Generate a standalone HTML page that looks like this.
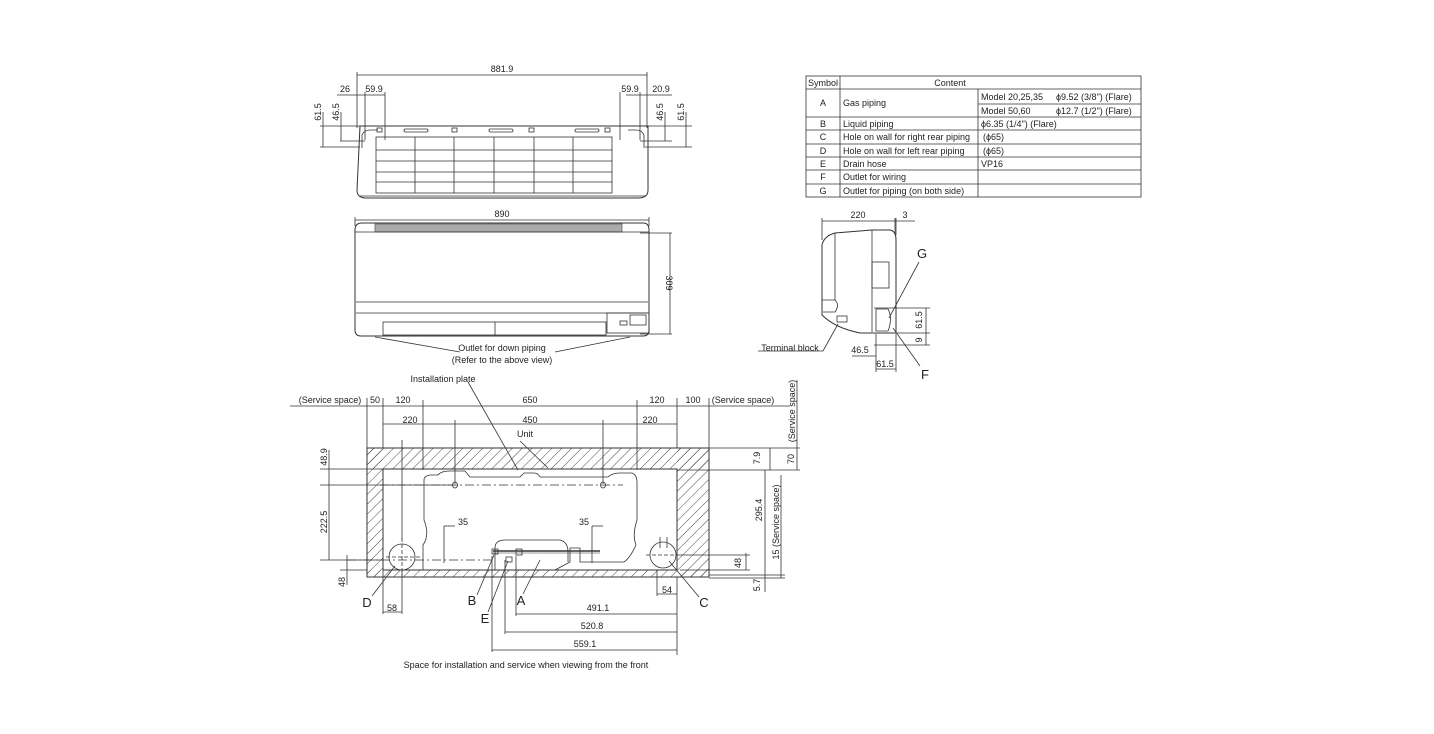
<!DOCTYPE html>
<html><head><meta charset="utf-8"><style>
html,body{margin:0;padding:0;background:#fff;}
svg{display:block;}
text{font-family:"Liberation Sans",sans-serif;font-size:9px;fill:#222;}
.big{font-size:13px;}
</style></head><body>
<svg width="1434" height="734" viewBox="0 0 1434 734" xmlns="http://www.w3.org/2000/svg">
<defs>
<pattern id="h" width="7" height="7" patternUnits="userSpaceOnUse" patternTransform="rotate(45)">
<line x1="0" y1="0" x2="0" y2="7" stroke="#333" stroke-width="0.9"/>
</pattern>
</defs>
<g stroke="#333" stroke-width="0.8" fill="none">
<!-- ===== TOP VIEW ===== -->
<line x1="357" y1="75" x2="647" y2="75"/>
<line x1="357" y1="72" x2="357" y2="128"/><line x1="647" y1="72" x2="647" y2="128"/>
<line x1="337" y1="95" x2="385" y2="95"/><line x1="626" y1="95" x2="672" y2="95"/>
<line x1="365" y1="92" x2="365" y2="140"/><line x1="385" y1="92" x2="385" y2="140"/>
<line x1="620" y1="92" x2="620" y2="140"/><line x1="640" y1="92" x2="640" y2="140"/>
<line x1="320" y1="126" x2="692" y2="126"/>
<line x1="340" y1="141" x2="365" y2="141"/><line x1="640" y1="141" x2="672" y2="141"/>
<line x1="320" y1="147" x2="360" y2="147"/><line x1="645" y1="147" x2="692" y2="147"/>
<line x1="323" y1="112" x2="323" y2="147"/><line x1="341" y1="112" x2="341" y2="141"/>
<line x1="665" y1="112" x2="665" y2="141"/><line x1="686" y1="112" x2="686" y2="147"/>
<path d="M360 126 H648 V190 Q648 198 638 198 H366 Q357 198 357 190 Z" stroke-width="1"/>
<path d="M362 148 L362 135 Q364 130 370 130 L378 130" />
<path d="M644 148 L644 135 Q642 130 636 130 L628 130" />
<rect x="376" y="137" width="236" height="56"/>
<line x1="415" y1="137" x2="415" y2="193"/><line x1="454" y1="137" x2="454" y2="193"/>
<line x1="494" y1="137" x2="494" y2="193"/><line x1="534" y1="137" x2="534" y2="193"/>
<line x1="573" y1="137" x2="573" y2="193"/>
<line x1="376" y1="150" x2="612" y2="150"/><line x1="376" y1="161" x2="612" y2="161"/>
<line x1="376" y1="172" x2="612" y2="172"/><line x1="376" y1="182" x2="612" y2="182"/>
<rect x="404" y="129" width="24" height="3" rx="1.5"/><rect x="489" y="129" width="24" height="3" rx="1.5"/><rect x="575" y="129" width="24" height="3" rx="1.5"/>
<rect x="377" y="128" width="5" height="4"/><rect x="452" y="128" width="5" height="4"/><rect x="529" y="128" width="5" height="4"/><rect x="605" y="128" width="5" height="4"/>
<line x1="360" y1="196" x2="646" y2="196"/>

<!-- ===== FRONT VIEW ===== -->
<line x1="355" y1="220" x2="649" y2="220"/>
<line x1="355" y1="217" x2="355" y2="226"/><line x1="649" y1="217" x2="649" y2="226"/>
<path d="M362 223 H643 Q649 223 649 230 V330 Q649 336 643 336 H361 Q355 336 355 330 V230 Q355 223 362 223 Z" stroke-width="1"/>
<rect x="375" y="224" width="247" height="8" fill="#aaa" stroke="#666"/>
<line x1="355" y1="232" x2="649" y2="232"/>
<line x1="356" y1="302" x2="648" y2="302"/>
<line x1="356" y1="313" x2="648" y2="313"/>
<rect x="383" y="322" width="223" height="13"/><line x1="495" y1="322" x2="495" y2="335"/>
<rect x="607" y="313" width="42" height="20"/><rect x="630" y="315" width="16" height="10"/><rect x="620" y="321" width="7" height="4"/>
<line x1="640" y1="233" x2="672" y2="233"/><line x1="640" y1="334" x2="672" y2="334"/>
<line x1="670" y1="233" x2="670" y2="334"/>
<line x1="375" y1="337" x2="460" y2="352"/><line x1="630" y1="337" x2="555" y2="352"/>

<!-- ===== TABLE ===== -->
<rect x="806" y="76" width="335" height="121"/>
<line x1="840" y1="76" x2="840" y2="197"/>
<line x1="978" y1="89" x2="978" y2="197"/>
<line x1="806" y1="89" x2="1141" y2="89"/>
<line x1="978" y1="104" x2="1141" y2="104"/>
<line x1="806" y1="117" x2="1141" y2="117"/><line x1="806" y1="130" x2="1141" y2="130"/>
<line x1="806" y1="144" x2="1141" y2="144"/><line x1="806" y1="157" x2="1141" y2="157"/>
<line x1="806" y1="170" x2="1141" y2="170"/><line x1="806" y1="184" x2="1141" y2="184"/>

<!-- ===== SIDE VIEW ===== -->
<line x1="822" y1="221" x2="896" y2="221"/><line x1="896" y1="221" x2="915" y2="221"/>
<line x1="822" y1="218" x2="822" y2="240"/><line x1="896" y1="218" x2="896" y2="235"/><line x1="895" y1="218" x2="895" y2="235"/>
<path d="M822 245 Q824 236 835 233 L872 230 H890 Q896 231 896 240 V333 L872 333 L860 333 Q835 328 822 315 Z" stroke-width="1"/>
<line x1="835" y1="233" x2="835" y2="300"/>
<line x1="872" y1="230" x2="872" y2="332"/>
<rect x="872" y="262" width="17" height="26"/>
<path d="M822 300 H835 Q840 305 835 312 H823"/>
<rect x="837" y="316" width="10" height="6"/>
<path d="M876 309 H888 Q893 318 888 331 H876 Z"/>
<line x1="874" y1="308" x2="930" y2="308"/>
<line x1="874" y1="333" x2="930" y2="333"/><line x1="874" y1="345" x2="930" y2="345"/>
<line x1="926" y1="308" x2="926" y2="345"/>
<line x1="876" y1="334" x2="876" y2="372"/><line x1="896" y1="334" x2="896" y2="372"/>
<line x1="852" y1="356" x2="876" y2="356"/><line x1="876" y1="369" x2="896" y2="369"/>
<line x1="919" y1="262" x2="889" y2="318"/>
<line x1="893" y1="328" x2="920" y2="366"/>
<line x1="758" y1="351" x2="823" y2="351"/><line x1="823" y1="351" x2="838" y2="324"/>

<!-- ===== BOTTOM VIEW ===== -->
<rect x="367" y="448" width="342" height="21" fill="url(#h)" stroke="none"/>
<rect x="367" y="448" width="16" height="129" fill="url(#h)" stroke="none"/>
<rect x="677" y="448" width="32" height="129" fill="url(#h)" stroke="none"/>
<rect x="367" y="570" width="342" height="7" fill="url(#h)" stroke="none"/>
<rect x="367" y="448" width="342" height="129" stroke-width="1"/>
<rect x="383" y="469" width="294" height="101" stroke-width="1"/>
<!-- installation plate -->
<path d="M423 570 V545 Q430 535 424 520 V480 Q424 476 430 475 H438 Q441 471 450 471 H465 L470 477 H520 L524 473 H534 Q538 473 540 477 H608 Q612 473 620 473 H632 Q637 475 637 482 V520 Q632 535 636 545 Q630 558 624 562 L580 562 V548 H570 V562 L555 570" />
<path d="M495 570 V548 Q495 540 505 540 H560 Q568 542 568 552 V562" />
<line x1="493" y1="551" x2="600" y2="551" stroke-width="1.5"/>
<line x1="493" y1="553" x2="600" y2="553" stroke-width="0.6"/>
<rect x="492" y="549" width="6" height="5"/><rect x="516" y="549" width="6" height="6"/><rect x="506" y="557" width="6" height="5"/>
<line x1="380" y1="485" x2="623" y2="485" stroke-dasharray="9 3 2 3"/>
<ellipse cx="455" cy="485" rx="2.5" ry="3"/><ellipse cx="603" cy="485" rx="2.5" ry="3"/>
<circle cx="402" cy="557" r="13"/><line x1="386" y1="557" x2="420" y2="557" stroke-dasharray="4 2"/><line x1="402" y1="538" x2="402" y2="576" stroke-dasharray="4 2"/>
<circle cx="663" cy="555" r="13"/><line x1="646" y1="555" x2="680" y2="555" stroke-dasharray="4 2"/>
<line x1="660" y1="537" x2="660" y2="548"/><line x1="667" y1="537" x2="667" y2="548"/>
<line x1="347" y1="560" x2="493" y2="560" stroke-dasharray="9 3 2 3"/>
<!-- top dims -->
<line x1="290" y1="406" x2="790" y2="406"/>
<line x1="367" y1="398" x2="367" y2="448"/><line x1="383" y1="398" x2="383" y2="448"/>
<line x1="423" y1="400" x2="423" y2="470"/><line x1="637" y1="400" x2="637" y2="470"/>
<line x1="677" y1="398" x2="677" y2="448"/><line x1="709" y1="398" x2="709" y2="448"/>
<line x1="383" y1="424" x2="677" y2="424"/>
<line x1="455" y1="420" x2="455" y2="484"/><line x1="603" y1="420" x2="603" y2="484"/>
<line x1="402" y1="440" x2="402" y2="540"/>
<line x1="468" y1="382" x2="518" y2="470"/>
<line x1="520" y1="441" x2="548" y2="468"/>
<!-- left dims -->
<line x1="320" y1="469" x2="383" y2="469"/><line x1="320" y1="485" x2="455" y2="485"/><line x1="320" y1="560" x2="383" y2="560"/>
<line x1="329" y1="450" x2="329" y2="560"/>
<line x1="347" y1="555" x2="347" y2="585"/><line x1="340" y1="570" x2="367" y2="570"/>
<line x1="444" y1="526" x2="455" y2="526"/><line x1="444" y1="526" x2="444" y2="563"/>
<line x1="592" y1="526" x2="603" y2="526"/><line x1="592" y1="526" x2="592" y2="563"/>
<!-- right dims -->
<line x1="709" y1="448" x2="800" y2="448"/><line x1="677" y1="470" x2="800" y2="470"/>
<line x1="770" y1="448" x2="770" y2="470"/><line x1="797" y1="380" x2="797" y2="470"/>
<line x1="765" y1="470" x2="765" y2="578"/><line x1="781" y1="475" x2="781" y2="578"/>
<line x1="709" y1="575" x2="785" y2="575"/><line x1="709" y1="578" x2="785" y2="578"/>
<line x1="680" y1="570" x2="750" y2="570"/><line x1="680" y1="555" x2="750" y2="555"/>
<line x1="746" y1="553" x2="746" y2="570"/>
<line x1="765" y1="578" x2="765" y2="592"/>
<!-- lower dims -->
<line x1="383" y1="570" x2="383" y2="614"/><line x1="402" y1="570" x2="402" y2="614"/>
<line x1="383" y1="612" x2="402" y2="612"/>
<line x1="657" y1="570" x2="657" y2="596"/><line x1="657" y1="594" x2="677" y2="594"/>
<line x1="677" y1="577" x2="677" y2="655"/>
<line x1="516" y1="556" x2="516" y2="616"/><line x1="516" y1="614" x2="677" y2="614"/>
<line x1="505" y1="560" x2="505" y2="634"/><line x1="505" y1="632" x2="677" y2="632"/>
<line x1="492" y1="556" x2="492" y2="652"/><line x1="492" y1="650" x2="677" y2="650"/>
<!-- leaders -->
<line x1="372" y1="596" x2="395" y2="566"/>
<line x1="477" y1="595" x2="494" y2="555"/>
<line x1="488" y1="612" x2="508" y2="561"/>
<line x1="523" y1="594" x2="540" y2="560"/>
<line x1="699" y1="597" x2="669" y2="561"/>
</g>

<g>
<!-- top view text -->
<text x="502" y="72" text-anchor="middle">881.9</text>
<text x="345" y="92" text-anchor="middle">26</text>
<text x="374" y="92" text-anchor="middle">59.9</text>
<text x="630" y="92" text-anchor="middle">59.9</text>
<text x="661" y="92" text-anchor="middle">20.9</text>
<text transform="translate(321,112) rotate(-90)" text-anchor="middle">61.5</text>
<text transform="translate(339,112) rotate(-90)" text-anchor="middle">46.5</text>
<text transform="translate(663,112) rotate(-90)" text-anchor="middle">46.5</text>
<text transform="translate(684,112) rotate(-90)" text-anchor="middle">61.5</text>
<text x="502" y="217" text-anchor="middle">890</text>
<text transform="translate(666,283) rotate(90)" text-anchor="middle">309</text>
<text x="502" y="351" text-anchor="middle">Outlet for down piping</text>
<text x="502" y="363" text-anchor="middle">(Refer to the above view)</text>
<!-- table -->
<text x="823" y="86" text-anchor="middle">Symbol</text>
<text x="950" y="86" text-anchor="middle">Content</text>
<text x="823" y="106" text-anchor="middle">A</text><text x="843" y="106">Gas piping</text>
<text x="981" y="100">Model 20,25,35</text><text x="1056" y="100">ϕ9.52 (3/8") (Flare)</text>
<text x="981" y="114">Model 50,60</text><text x="1056" y="114">ϕ12.7 (1/2") (Flare)</text>
<text x="823" y="127" text-anchor="middle">B</text><text x="843" y="127">Liquid piping</text><text x="981" y="127">ϕ6.35 (1/4") (Flare)</text>
<text x="823" y="140" text-anchor="middle">C</text><text x="843" y="140">Hole on wall for right rear piping</text><text x="983" y="140">(ϕ65)</text>
<text x="823" y="154" text-anchor="middle">D</text><text x="843" y="154">Hole on wall for left rear piping</text><text x="983" y="154">(ϕ65)</text>
<text x="823" y="167" text-anchor="middle">E</text><text x="843" y="167">Drain hose</text><text x="981" y="167">VP16</text>
<text x="823" y="180" text-anchor="middle">F</text><text x="843" y="180">Outlet for wiring</text>
<text x="823" y="194" text-anchor="middle">G</text><text x="843" y="194">Outlet for piping (on both side)</text>
<!-- side view -->
<text x="858" y="218" text-anchor="middle">220</text>
<text x="905" y="218" text-anchor="middle">3</text>
<text x="922" y="258" class="big" text-anchor="middle">G</text>
<text x="925" y="379" class="big" text-anchor="middle">F</text>
<text x="790" y="351" text-anchor="middle">Terminal block</text>
<text transform="translate(922,320) rotate(-90)" text-anchor="middle">61.5</text>
<text transform="translate(922,340) rotate(-90)" text-anchor="middle">9</text>
<text x="860" y="353" text-anchor="middle">46.5</text>
<text x="885" y="367" text-anchor="middle">61.5</text>
<!-- bottom view -->
<text x="443" y="382" text-anchor="middle">Installation plate</text>
<text x="525" y="437" text-anchor="middle">Unit</text>
<text x="330" y="403" text-anchor="middle">(Service space)</text>
<text x="375" y="403" text-anchor="middle">50</text>
<text x="403" y="403" text-anchor="middle">120</text>
<text x="530" y="403" text-anchor="middle">650</text>
<text x="657" y="403" text-anchor="middle">120</text>
<text x="693" y="403" text-anchor="middle">100</text>
<text x="743" y="403" text-anchor="middle">(Service space)</text>
<text transform="translate(795,411) rotate(-90)" text-anchor="middle">(Service space)</text>
<text x="410" y="423" text-anchor="middle">220</text>
<text x="530" y="423" text-anchor="middle">450</text>
<text x="650" y="423" text-anchor="middle">220</text>
<text transform="translate(327,457) rotate(-90)" text-anchor="middle">48.9</text>
<text transform="translate(327,522) rotate(-90)" text-anchor="middle">222.5</text>
<text transform="translate(345,582) rotate(-90)" text-anchor="middle">48</text>
<text x="463" y="525" text-anchor="middle">35</text>
<text x="584" y="525" text-anchor="middle">35</text>
<text transform="translate(760,458) rotate(-90)" text-anchor="middle">7.9</text>
<text transform="translate(794,459) rotate(-90)" text-anchor="middle">70</text>
<text transform="translate(762,510) rotate(-90)" text-anchor="middle">295.4</text>
<text transform="translate(779,522) rotate(-90)" text-anchor="middle">15 (Service space)</text>
<text transform="translate(741,563) rotate(-90)" text-anchor="middle">48</text>
<text transform="translate(760,585) rotate(-90)" text-anchor="middle">5.7</text>
<text x="367" y="607" class="big" text-anchor="middle">D</text>
<text x="472" y="605" class="big" text-anchor="middle">B</text>
<text x="521" y="605" class="big" text-anchor="middle">A</text>
<text x="485" y="623" class="big" text-anchor="middle">E</text>
<text x="704" y="607" class="big" text-anchor="middle">C</text>
<text x="392" y="611" text-anchor="middle">58</text>
<text x="667" y="593" text-anchor="middle">54</text>
<text x="598" y="611" text-anchor="middle">491.1</text>
<text x="592" y="629" text-anchor="middle">520.8</text>
<text x="585" y="647" text-anchor="middle">559.1</text>
<text x="526" y="668" text-anchor="middle">Space for installation and service when viewing from the front</text>
</g>
</svg>
</body></html>
